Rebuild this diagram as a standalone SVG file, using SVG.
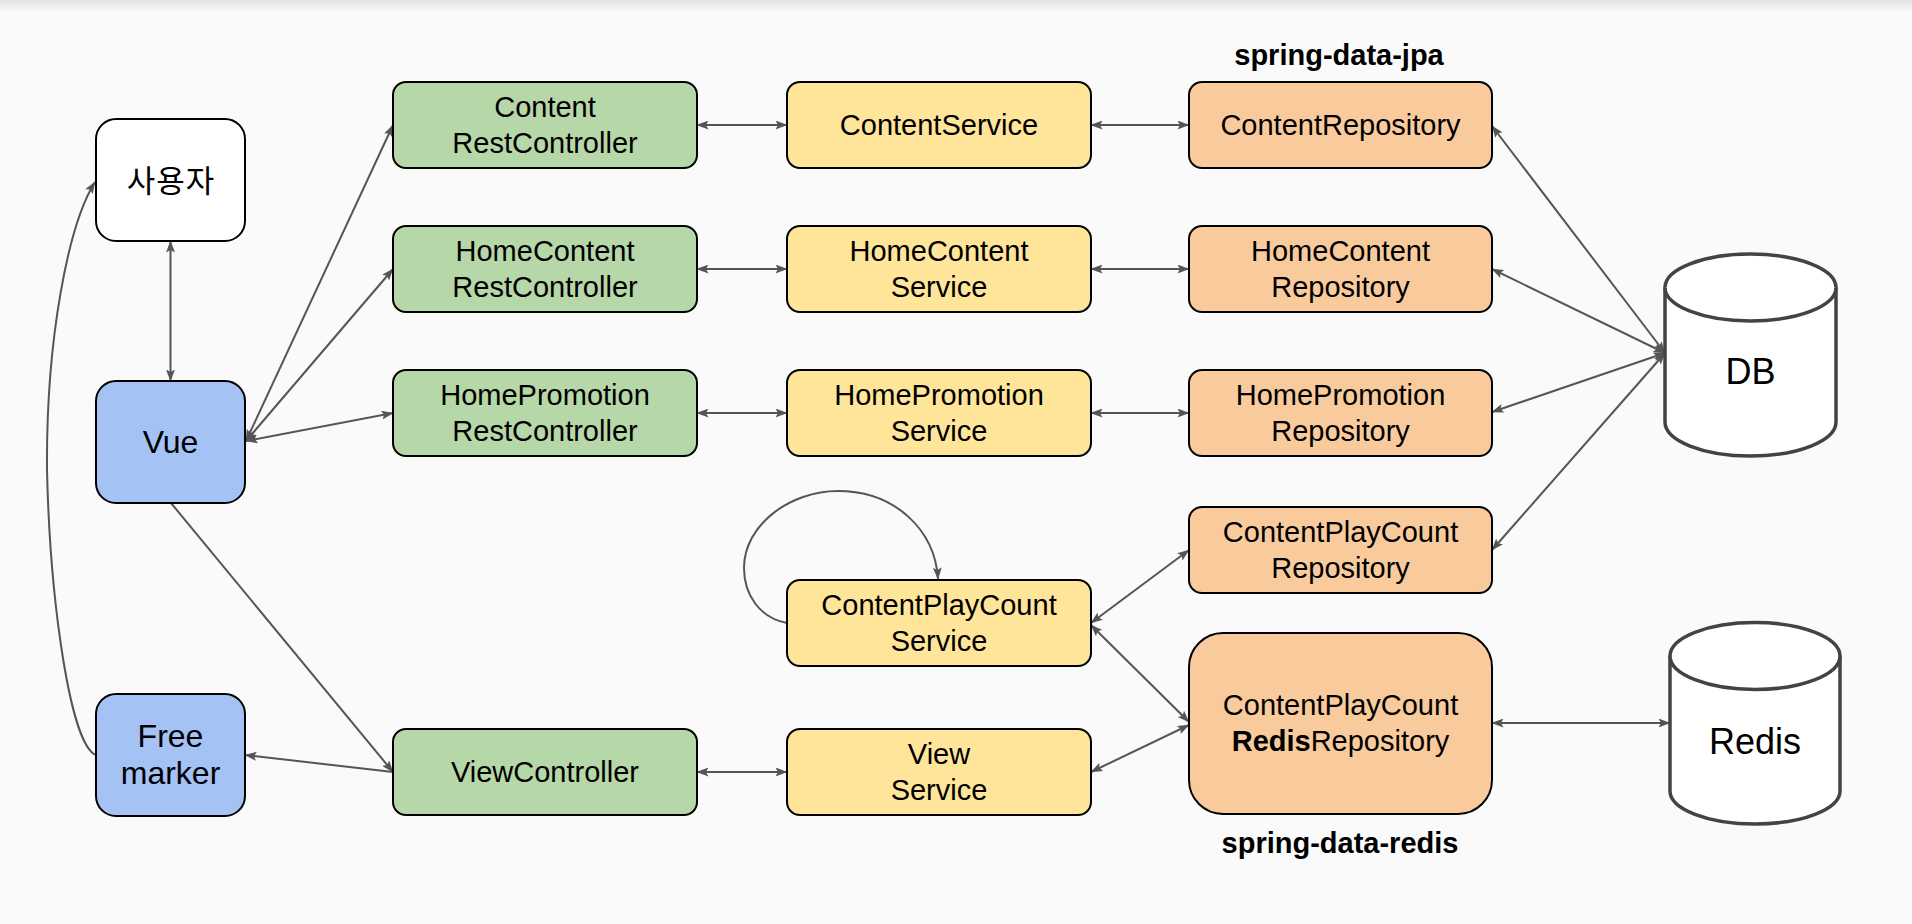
<svg xmlns="http://www.w3.org/2000/svg" width="1912" height="924" viewBox="0 0 1912 924">
<style>
.box{stroke:#000;stroke-width:2}
.white{fill:#ffffff}
.blue{fill:#a4c2f4}
.green{fill:#b6d7a8}
.yellow{fill:#ffe599}
.orange{fill:#f9cb9c}
.t{font-family:"Liberation Sans",Arial,"Noto Sans CJK KR",sans-serif;font-size:29px;fill:#000;text-anchor:middle}
.l{font-size:32px}
.kr{font-family:"Noto Sans CJK KR","Liberation Sans",sans-serif;font-size:31px;letter-spacing:1px}
.big{font-size:36px}
.b{font-weight:bold}
.cyl{fill:#ffffff;stroke:#434343;stroke-width:3.5}
.c{fill:none;stroke:#555;stroke-width:2}
.both{marker-start:url(#ah);marker-end:url(#ah)}
.end{marker-end:url(#ah)}
</style>
<defs>
<marker id="ah" viewBox="0 0 12 9" refX="11.5" refY="4.5" markerWidth="12" markerHeight="9" markerUnits="userSpaceOnUse" orient="auto-start-reverse">
<path d="M0,0 L12,4.5 L0,9 L2.5,4.5 z" fill="#555"/>
</marker>
<linearGradient id="topshade" x1="0" y1="0" x2="0" y2="1">
<stop offset="0" stop-color="#e2e2e2"/>
<stop offset="1" stop-color="#fafafa"/>
</linearGradient>
</defs>
<rect x="0" y="0" width="1912" height="924" fill="#fafafa"/>
<rect x="0" y="0" width="1912" height="12" fill="url(#topshade)"/>

<g id="connectors">
<path class="c both" d="M170.5,241 L170.5,381"/>
<path class="c both" d="M246,441 L393,125"/>
<path class="c both" d="M246,441 L393,269"/>
<path class="c both" d="M246,441 L393,413"/>
<path class="c both" d="M697,125 L787,125"/>
<path class="c both" d="M697,269 L787,269"/>
<path class="c both" d="M697,413 L787,413"/>
<path class="c both" d="M1091,125 L1189,125"/>
<path class="c both" d="M1091,269 L1189,269"/>
<path class="c both" d="M1091,413 L1189,413"/>
<path class="c both" d="M1492,126 L1665,353"/>
<path class="c both" d="M1492,269 L1665,353"/>
<path class="c both" d="M1492,412 L1665,353"/>
<path class="c both" d="M1492,550 L1665,353"/>
<path class="c both" d="M1091,623 L1189,550"/>
<path class="c both" d="M1091,625 L1189,722"/>
<path class="c both" d="M1091,772 L1189,725"/>
<path class="c both" d="M697,772 L787,772"/>
<path class="c both" d="M1492,723 L1670,723"/>
<path class="c end" d="M171,503 L393,772"/>
<path class="c end" d="M393,772 L245,755"/>
<path class="c end" d="M96,755 C70,745 50,600 47,470 C46,340 68,225 95,182"/>
<path class="c end" d="M787,623 C760,618 744,595 744,568 C744,525 790,491 838,491 C895,491 935,530 938,579"/>
</g>

<g id="user">
<rect class="box white" x="96" y="119" width="149" height="122" rx="20"/>
<text class="t kr" x="171" y="192">사용자</text>
</g>
<g id="vue">
<rect class="box blue" x="96" y="381" width="149" height="122" rx="20"/>
<text class="t l" x="170.5" y="453">Vue</text>
</g>
<g id="freemarker">
<rect class="box blue" x="96" y="694" width="149" height="122" rx="20"/>
<text class="t l" x="170.5" y="747">Free</text>
<text class="t l" x="170.5" y="784">marker</text>
</g>

<g id="content-restcontroller">
<rect class="box green" x="393" y="82" width="304" height="86" rx="13"/>
<text class="t" x="545" y="117">Content</text>
<text class="t" x="545" y="153">RestController</text>
</g>
<g id="homecontent-restcontroller">
<rect class="box green" x="393" y="226" width="304" height="86" rx="13"/>
<text class="t" x="545" y="261">HomeContent</text>
<text class="t" x="545" y="297">RestController</text>
</g>
<g id="homepromotion-restcontroller">
<rect class="box green" x="393" y="370" width="304" height="86" rx="13"/>
<text class="t" x="545" y="405">HomePromotion</text>
<text class="t" x="545" y="441">RestController</text>
</g>
<g id="viewcontroller">
<rect class="box green" x="393" y="729" width="304" height="86" rx="13"/>
<text class="t" x="545" y="782">ViewController</text>
</g>

<g id="contentservice">
<rect class="box yellow" x="787" y="82" width="304" height="86" rx="13"/>
<text class="t" x="939" y="135">ContentService</text>
</g>
<g id="homecontentservice">
<rect class="box yellow" x="787" y="226" width="304" height="86" rx="13"/>
<text class="t" x="939" y="261">HomeContent</text>
<text class="t" x="939" y="297">Service</text>
</g>
<g id="homepromotionservice">
<rect class="box yellow" x="787" y="370" width="304" height="86" rx="13"/>
<text class="t" x="939" y="405">HomePromotion</text>
<text class="t" x="939" y="441">Service</text>
</g>
<g id="contentplaycountservice">
<rect class="box yellow" x="787" y="580" width="304" height="86" rx="13"/>
<text class="t" x="939" y="615">ContentPlayCount</text>
<text class="t" x="939" y="651">Service</text>
</g>
<g id="viewservice">
<rect class="box yellow" x="787" y="729" width="304" height="86" rx="13"/>
<text class="t" x="939" y="764">View</text>
<text class="t" x="939" y="800">Service</text>
</g>

<g id="contentrepository">
<rect class="box orange" x="1189" y="82" width="303" height="86" rx="13"/>
<text class="t" x="1340.5" y="135">ContentRepository</text>
</g>
<g id="homecontentrepository">
<rect class="box orange" x="1189" y="226" width="303" height="86" rx="13"/>
<text class="t" x="1340.5" y="261">HomeContent</text>
<text class="t" x="1340.5" y="297">Repository</text>
</g>
<g id="homepromotionrepository">
<rect class="box orange" x="1189" y="370" width="303" height="86" rx="13"/>
<text class="t" x="1340.5" y="405">HomePromotion</text>
<text class="t" x="1340.5" y="441">Repository</text>
</g>
<g id="contentplaycountrepository">
<rect class="box orange" x="1189" y="507" width="303" height="86" rx="13"/>
<text class="t" x="1340.5" y="542">ContentPlayCount</text>
<text class="t" x="1340.5" y="578">Repository</text>
</g>
<g id="contentplaycountredisrepository">
<rect class="box orange" x="1189" y="633" width="303" height="181" rx="34"/>
<text class="t" x="1340.5" y="715">ContentPlayCount</text>
<text class="t" x="1340.5" y="751"><tspan class="b">Redis</tspan>Repository</text>
</g>

<g id="db">
<path class="cyl" d="M1665,287.5 L1665,422 A85.5,34 0 0 0 1836,422 L1836,287.5 A85.5,33.5 0 0 0 1665,287.5 Z"/>
<path class="cyl" fill="none" d="M1665,287.5 A85.5,33.5 0 0 0 1836,287.5"/>
<text class="t big" x="1750.5" y="384">DB</text>
</g>
<g id="redis">
<path class="cyl" d="M1670,656 L1670,791 A85,33 0 0 0 1840,791 L1840,656 A85,33.5 0 0 0 1670,656 Z"/>
<path class="cyl" fill="none" d="M1670,656 A85,33.5 0 0 0 1840,656"/>
<text class="t big" x="1755" y="754">Redis</text>
</g>

<g id="labels">
<text class="t b" x="1339" y="65">spring-data-jpa</text>
<text class="t b" x="1340" y="853">spring-data-redis</text>
</g>
</svg>
